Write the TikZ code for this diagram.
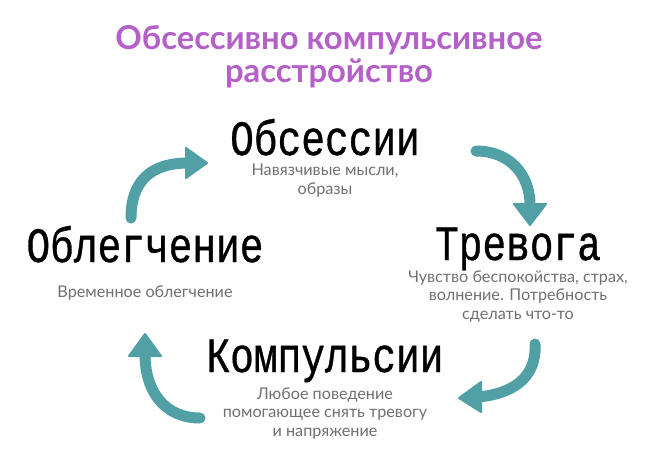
\documentclass[tikz,border=0pt]{standalone}
\usepackage{fontspec}
\usepackage{graphicx}
\setmainfont{Lato}
\newfontfamily\headfont[FakeBold=0.85]{Liberation Mono}
\newfontfamily\titlefont{Lato}[UprightFont=* Bold]
\definecolor{titlepurple}{RGB}{180,96,200}
\definecolor{arrowteal}{RGB}{80,160,166}
\definecolor{subgray}{RGB}{112,112,112}
\tikzset{
  heading/.style={font=\headfont\fontsize{39.5}{40}\selectfont, text=black, inner sep=0pt, anchor=base},
  subtext/.style={font=\fontsize{16.2}{18.3}\selectfont, text=subgray, align=center, inner sep=0pt, anchor=base},
  titletext/.style={font=\titlefont\fontsize{32.8}{33}\selectfont, text=titlepurple, align=center, inner sep=0pt, anchor=base},
  shaft/.style={draw=arrowteal, line width=11pt, line cap=round},
  head/.style={fill=arrowteal, draw=arrowteal, line width=2pt, line join=round}
}
\newcommand{\tallhead}[1]{\scalebox{1}[1.25]{#1}}
\begin{document}
\begin{tikzpicture}[x=1pt,y=-1pt]
\useasboundingbox[fill=white] (0,0) rectangle (650,460);
% multi-line nodes: base anchor = baseline of last line
\node[titletext] (title) at (329,82) {Обсессивно компульсивное\\расстройство};
\node[heading] (obs) at (325,155) {\tallhead{Обсессии}};
\node[subtext] (obssub) at (325,194) {Навязчивые мысли,\\образы};
\node[heading] (trev) at (518,260) {\tallhead{Тревога}};
\node[subtext] (trevsub) at (518,319) {Чувство беспокойства, страх,\\волнение. Потребность\\сделать что-то};
\node[heading] (obl) at (145,262) {\tallhead{Облегчение}};
\node[subtext] (oblsub) at (145,297) {Временное облегчение};
\node[heading] (komp) at (325,372) {\tallhead{Компульсии}};
\node[subtext] (kompsub) at (325,436) {Любое поведение\\помогающее снять тревогу\\и напряжение};
% arrows
\coordinate (a1s) at (131,218); \coordinate (a1e) at (188,163);
\draw[shaft] (a1s) .. controls (131,182) and (150,163) .. (a1e);
\fill[head] (186,148) -- (207,163) -- (186,178) -- cycle;
\coordinate (a2s) at (476,151); \coordinate (a2e) at (530,205);
\draw[shaft] (a2s) .. controls (510,151) and (530,175) .. (a2e);
\fill[head] (514,204) -- (530,225) -- (546,204) -- cycle;
\coordinate (a3s) at (535,344); \coordinate (a3e) at (478,397);
\draw[shaft] (a3s) .. controls (537,378) and (512,394) .. (a3e);
\fill[head] (481,382) -- (459,398) -- (481,412) -- cycle;
\coordinate (a4s) at (200,418); \coordinate (a4e) at (145,354);
\draw[shaft] (a4s) .. controls (165,418) and (145,392) .. (a4e);
\fill[head] (129,356) -- (145,334) -- (161,356) -- cycle;
\end{tikzpicture}
\end{document}
